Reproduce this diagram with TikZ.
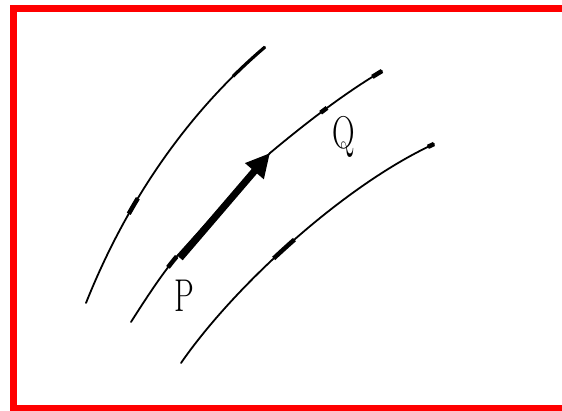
\documentclass[tikz,border=0pt]{standalone}
\usetikzlibrary{arrows.meta}
\begin{document}
\begin{tikzpicture}[x=1pt,y=-1pt,
  fieldline/.style={line width=1.8pt,line cap=round,line join=round},
  thickpart/.style={line width=4.5pt,line cap=butt},
  lbl/.style={font=\fontsize{46}{46}\selectfont,xscale=0.68,inner sep=0pt}]
\useasboundingbox (0,0) rectangle (562,411);
\fill[white] (0,0) rectangle (562,411);
% red frame (open on the right)
\draw[red,line width=7pt] (575,8.3) -- (13.5,8.3) -- (13.5,408) -- (575,408);
% field line 1
\coordinate (a1) at (86,303);
\coordinate (a2) at (265,47);
\draw[fieldline] (a1) .. controls (125,205) and (185,115) .. (a2);
\draw[thickpart,dash pattern=on 0pt off 99pt on 18pt off 2000pt] (a1) .. controls (125,205) and (185,115) .. (a2);
\draw[thickpart,line width=3.2pt,dash pattern=on 0pt off 272pt on 60pt off 2000pt] (a1) .. controls (125,205) and (185,115) .. (a2);
% field line 2
\coordinate (b1) at (131,322);
\coordinate (pP) at (178,255);
\coordinate (pm) at (270,153);
\coordinate (b2) at (382,71);
\draw[fieldline] (b1) .. controls (150,292) and (165,270) .. (pP) -- (pm) .. controls (300,128) and (340,96) .. (b2);
\draw[thickpart,dash pattern=on 0pt off 66pt on 14pt off 204pt on 8pt off 55pt on 12pt off 2000pt] (b1) .. controls (150,292) and (165,270) .. (pP) -- (pm) .. controls (300,128) and (340,96) .. (b2);
% field line 3
\coordinate (c1) at (181,363);
\coordinate (c2) at (434,144);
\draw[fieldline] (c1) .. controls (235,285) and (345,185) .. (c2);
\draw[thickpart,dash pattern=on 0pt off 140pt on 28pt off 163pt on 12pt off 2000pt] (c1) .. controls (235,285) and (345,185) .. (c2);
% vector from P towards Q
\coordinate (A) at (180,258);
\coordinate (B) at (270,153);
\draw[line width=7pt,-{Triangle[length=24pt,width=23pt]}] (A) -- (B);
% labels
\node[lbl] (P) at (184,296) {P};
\node[lbl] (Q) at (344,137) {Q};
\end{tikzpicture}
\end{document}
